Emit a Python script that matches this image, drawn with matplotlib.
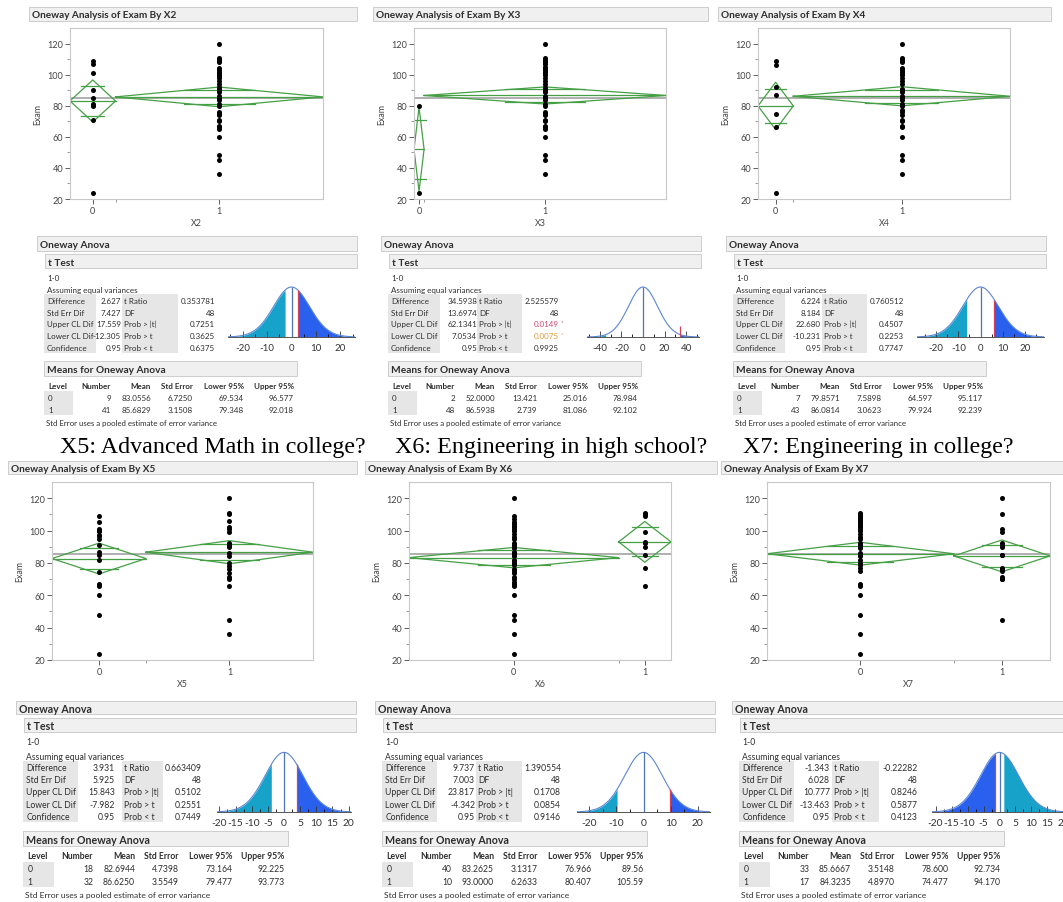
import math
import numpy as np
import matplotlib
matplotlib.use("Agg")
import matplotlib.pyplot as plt
from matplotlib.patches import Rectangle

plt.rcParams['font.family'] = ['Lato', 'DejaVu Sans']

##################### Data ######################
factors = ['X2', 'X3', 'X4', 'X5', 'X6', 'X7']
questions = ['', '', '', 'X5: Advanced Math in college?',
             'X6: Engineering in high school?', 'X7: Engineering in college?']

# exam scores, level 0 / level 1
scores = [
    ([109, 107, 101, 90, 85, 81, 80, 71, 24],
     [120, 111, 110, 109, 108, 104, 103, 102, 101, 100, 99, 98, 96, 94, 92, 91, 90,
      89, 86, 85, 84, 81, 80, 76, 75, 74, 71, 70, 67, 66, 65, 60, 48, 45, 36]),
    ([80, 24],
     [120, 111, 110, 109, 108, 107, 105, 104, 103, 102, 101, 100, 98, 96, 94, 92, 91,
      90, 89, 86, 85, 84, 81, 80, 76, 75, 74, 71, 70, 67, 66, 65, 60, 48, 45, 36]),
    ([109, 106, 92, 87, 75, 66, 24],
     [120, 111, 110, 109, 108, 104, 103, 102, 101, 100, 98, 96, 94, 91, 90, 89, 86,
      85, 84, 81, 80, 77, 76, 74, 71, 70, 67, 66, 60, 48, 45, 36]),
    ([109, 105, 101, 100, 100, 97, 96.5, 95, 91, 87, 85, 82, 74.5, 67, 66, 60, 48, 24],
     [120, 111, 110, 106, 102, 101, 99, 92, 91, 90, 86, 84, 80, 78, 76, 74, 71, 70,
      66, 45, 36]),
    ([120, 109, 107, 105, 104, 103, 102, 101, 100, 98, 96, 95, 92, 91, 90, 89, 87, 86,
      85, 84, 82, 81, 80, 79, 76, 75, 74, 71, 70, 68, 67, 66, 60, 48, 45, 36, 24],
     [111, 110, 109, 99, 93, 92, 90, 85, 77, 66]),
    ([111, 110, 109, 108, 107, 106, 105, 104, 103, 102, 101, 100, 98, 96, 95, 92, 91,
      90, 89, 86, 85, 84, 82, 80, 79, 77, 75, 67, 66, 60, 48, 36, 24],
     [120, 110, 101, 99, 92, 91, 90, 85, 85, 77, 76, 76, 75, 71, 70, 70, 45]),
]

# t Test tables
difference = ['2.627', '34.5938', '6.224', '3.931', '9.737', '-1.343']
std_err_dif = ['7.427', '13.6974', '8.184', '5.925', '7.003', '6.028']
upper_cl = ['17.559', '62.1341', '22.680', '15.843', '23.817', '10.777']
lower_cl = ['-12.305', '7.0534', '-10.231', '-7.982', '-4.342', '-13.463']
confidence = ['0.95'] * 6
t_ratio = ['0.353781', '2.525579', '0.760512', '0.663409', '1.390554', '-0.22282']
dfree = ['48'] * 6
prob_abs = ['0.7251', '0.0149*', '0.4507', '0.5102', '0.1708', '0.8246']
prob_gt = ['0.3625', '0.0075*', '0.2253', '0.2551', '0.0854', '0.5877']
prob_lt = ['0.6375', '0.9925', '0.7747', '0.7449', '0.9146', '0.4123']

# Means for Oneway Anova, level 0 / level 1
number = [('9', '41'), ('2', '48'), ('7', '43'), ('18', '32'), ('40', '10'), ('33', '17')]
mean = [('83.0556', '85.6829'), ('52.0000', '86.5938'), ('79.8571', '86.0814'),
        ('82.6944', '86.6250'), ('83.2625', '93.0000'), ('85.6667', '84.3235')]
std_error = [('6.7250', '3.1508'), ('13.421', '2.739'), ('7.5898', '3.0623'),
             ('4.7398', '3.5549'), ('3.1317', '6.2633'), ('3.5148', '4.8970')]
lower95 = [('69.534', '79.348'), ('25.016', '81.086'), ('64.597', '79.924'),
           ('73.164', '79.477'), ('76.966', '80.407'), ('78.600', '74.477')]
upper95 = [('96.577', '92.018'), ('78.984', '92.102'), ('95.117', '92.239'),
           ('92.225', '93.773'), ('89.56', '105.59'), ('92.734', '94.170')]

tick_step = [10, 20, 10, 5, 10, 5]

##################### Layout (pixels) ######################
W, H = 1063, 903
fig = plt.figure(figsize=(W / 100, H / 100), dpi=100)

frames = [(70, 29, 323, 200), (414, 29, 666, 200), (758, 29, 1010, 200),
          (52, 483, 313, 661), (409, 483, 671, 661), (767, 483, 1050, 661)]
head_bars = [(29, 8, 357, 22), (373, 8, 708, 22), (718, 8, 1051, 22),
             (8, 462, 357, 475), (365, 462, 717, 475), (721, 462, 1066, 475)]
tab_x0 = [39, 383, 728, 18, 377, 734]
val_right = [82, 94, 93, 97, 98, 96]
box2_start = [83, 94, 94, 104, 99, 98]
dist_left = [189, 204, 189, 199, 200, 198]
title_x = [0, 0, 0, 60, 395, 743]

rows_y = [
    dict(oa=(237, 252), tt=(255, 269), r10=278, ass=290, rows=[301, 313, 324, 336, 348],
         box=(295, 354), mb=(362, 377), mh=386, mr=[398, 410], lb=(392, 416), foot=423,
         dist=(286, 338)),
    dict(oa=(702, 715), tt=(719, 733), r10=742, ass=756, rows=[768, 780, 792, 805, 817],
         box=(762, 823), mb=(832, 847), mh=856, mr=[869, 882], lb=(863, 888), foot=895,
         dist=(751, 813)),
]

GREEN = '#45a045'
TXT = '#2e2e2e'
BAR = '#f0f0f0'
BAR_EDGE = '#cdcdcd'
CELL = '#e6e6e6'


def fx(x):
    return x / W


def fy(y):
    return 1 - y / H


def txt(x, y, s, size=6.3, weight='normal', ha='left', color=TXT, va='center_baseline', **kw):
    fig.text(fx(x), fy(y), s, fontsize=size, fontweight=weight, ha=ha, va=va,
             color=color, **kw)


def box(x0, y0, x1, y1, fc, ec='none', lw=0.7):
    fig.add_artist(Rectangle((fx(x0), fy(y1)), (x1 - x0) / W, (y1 - y0) / H,
                             transform=fig.transFigure, fc=fc, ec=ec, lw=lw))


def add_ax(x0, y0, x1, y1):
    return fig.add_axes([fx(x0), fy(y1), (x1 - x0) / W, (y1 - y0) / H])


def tpdf(t, nu):
    c = math.gamma((nu + 1) / 2) / (math.sqrt(nu * math.pi) * math.gamma(nu / 2))
    return c * (1 + t ** 2 / nu) ** (-(nu + 1) / 2)


##################### Dot plots with means diamonds ######################
for i, f in enumerate(factors):
    hx0, hy0, hx1, hy1 = head_bars[i]
    box(hx0, hy0, hx1, hy1, BAR, BAR_EDGE)
    txt(hx0 + 3, (hy0 + hy1) / 2, 'Oneway Analysis of Exam By ' + f, size=7.2, weight='bold')

    l, t, r, b = frames[i]
    ax = add_ax(l, t, r, b)
    n0, n1 = int(number[i][0]), int(number[i][1])
    n = n0 + n1
    spans = [(0, n0), (n0, n)]
    m = [float(v) for v in mean[i]]
    grand = (n0 * m[0] + n1 * m[1]) / n
    ax.axhline(grand, color='#9a9a9a', lw=1.1, zorder=1)
    for g in range(2):
        a, c = spans[g]
        mid = (a + c) / 2
        ys = scores[i][g]
        ax.scatter(np.full(len(ys), mid), ys, s=13, color='black', lw=0, zorder=3)
        lo, hi = float(lower95[i][g]), float(upper95[i][g])
        ax.plot([a, mid, c, mid, a], [m[g], hi, m[g], lo, m[g]], color=GREEN, lw=0.9)
        ax.plot([a, c], [m[g], m[g]], color=GREEN, lw=0.9)
        d = (hi - lo) / 2 / math.sqrt(2)
        half = 0.146 * (c - a) + 1
        for yy in (m[g] + d, m[g] - d):
            ax.plot([mid - half, mid + half], [yy, yy], color=GREEN, lw=0.9)
    ax.set_xlim(0, n)
    ax.set_ylim(20, 130)
    ax.set_xticks([n0 / 2, n0 + n1 / 2])
    ax.set_xticklabels(['0', '1'])
    ax.set_xticks([n0], minor=True)
    ax.set_yticks(range(20, 121, 20))
    ax.set_yticks(range(30, 120, 20), minor=True)
    ax.tick_params(labelsize=6.6, colors='#444444', length=3.5, width=0.6, pad=1.5)
    ax.tick_params(which='minor', length=2, width=0.6, colors='#888888')
    for sp in ax.spines.values():
        sp.set_color('#c8c8c8')
        sp.set_linewidth(0.8)
    txt(l - 32, (t + b) / 2, 'Exam', size=6.4, ha='center', rotation=90, color='#444444',
        va='center')
    txt((l + r) / 2, b + 23, f, size=6.4, ha='center', color='#444444')

    if questions[i]:
        txt(title_x[i], 453, questions[i], size=17.3, family='Liberation Serif',
            color='black', va='baseline')

##################### Oneway Anova tables ######################
for i, f in enumerate(factors):
    row = 0 if i < 3 else 1
    Y = rows_y[row]
    s = 1.0 if row == 0 else 1.045
    fs = 5.8 if row == 0 else 6.2
    x0 = tab_x0[i]
    bar_r = x0 + (318 if row == 0 else 338)

    box(x0 - 2, Y['oa'][0], bar_r, Y['oa'][1], BAR, BAR_EDGE)
    txt(x0 + 1, sum(Y['oa']) / 2, 'Oneway Anova', size=fs + 1.5, weight='bold')
    box(x0 + 6 * s, Y['tt'][0], bar_r, Y['tt'][1], BAR, BAR_EDGE)
    txt(x0 + 9 * s, sum(Y['tt']) / 2, 't Test', size=fs + 1.5, weight='bold')
    txt(x0 + 8 * s, Y['r10'], '1-0', size=fs)
    txt(x0 + 8 * s, Y['ass'], 'Assuming equal variances', size=fs)

    box(x0 + 5 * s, Y['box'][0], x0 + 57 * s, Y['box'][1], CELL)
    box(x0 + box2_start[i], Y['box'][0], x0 + 139 * s, Y['box'][1], CELL)
    labels1 = ['Difference', 'Std Err Dif', 'Upper CL Dif', 'Lower CL Dif', 'Confidence']
    values1 = [difference[i], std_err_dif[i], upper_cl[i], lower_cl[i], confidence[i]]
    labels2 = ['t Ratio', 'DF', 'Prob > |t|', 'Prob > t', 'Prob < t']
    values2 = [t_ratio[i], dfree[i], prob_abs[i], prob_gt[i], prob_lt[i]]
    for k, yy in enumerate(Y['rows']):
        txt(x0 + 8 * s, yy, labels1[k], size=fs)
        txt(x0 + val_right[i], yy, values1[k], size=fs, ha='right')
        txt(x0 + box2_start[i] + 2, yy, labels2[k], size=fs)
        v = values2[k]
        col = TXT
        if v.endswith('*'):
            col = '#d2456e' if k == 2 else '#e39a3a'
            txt(x0 + 176 * s + 2, yy - 2, '*', size=fs - 1.5, color=col)
            v = v[:-1]
        txt(x0 + 176 * s, yy, v, size=fs, ha='right', color=col)

    # t distribution plot
    se = float(std_err_dif[i])
    diff = float(difference[i])
    nu = int(dfree[i])
    xr = max(3.5 * se, 1.5 * abs(diff))
    dax = add_ax(x0 + dist_left[i], Y['dist'][0], x0 + (316 if row == 0 else 333), Y['dist'][1])
    xs = np.linspace(-xr, xr, 400)
    ys = tpdf(xs / se, nu) / se
    peak = ys.max()
    near, far = '#2a60ee', '#17a3c9'
    xr_r = np.linspace(abs(diff), xr, 200)
    xr_l = np.linspace(-xr, -abs(diff), 200)
    dax.fill_between(xr_r, 0, tpdf(xr_r / se, nu) / se, color=near if diff > 0 else far, lw=0)
    dax.fill_between(xr_l, 0, tpdf(xr_l / se, nu) / se, color=far if diff > 0 else near, lw=0)
    dax.plot(xs, ys, color='#5b86d6', lw=0.8)
    dax.vlines(0, 0, peak, color='#4f73b8', lw=0.9)
    hd = max(tpdf(diff / se, nu) / se, 0.22 * peak)
    dax.vlines(diff, 0, hd, color='#d2405c', lw=0.9)
    st = tick_step[i]
    lim = int(xr // st) * st
    major = np.arange(-lim, lim + 0.1, st)
    dax.set_xticks(major)
    dax.set_xticks(np.arange(-lim - st / 2, lim + st, st / 2), minor=True)
    dax.set_xticklabels([str(int(v)) for v in major])
    dax.set_xlim(-xr, xr)
    dax.set_ylim(0, peak * 1.04)
    dax.set_yticks([])
    for side in ('left', 'right', 'top'):
        dax.spines[side].set_visible(False)
    dax.spines['bottom'].set_color('#555555')
    dax.spines['bottom'].set_linewidth(0.7)
    dax.tick_params(axis='x', direction='in', length=4, width=0.6, colors='#333333',
                    labelsize=fs + 1.2, pad=4)
    dax.tick_params(axis='x', which='minor', direction='in', length=2.5, width=0.6)
    dax.patch.set_alpha(0)

    # Means for Oneway Anova
    box(x0 + 5 * s, Y['mb'][0], x0 + 258 * s, Y['mb'][1], BAR, BAR_EDGE)
    txt(x0 + 8 * s, sum(Y['mb']) / 2, 'Means for Oneway Anova', size=fs + 1.5, weight='bold')
    col_right = [72, 112, 154, 205, 255]
    heads = ['Number', 'Mean', 'Std Error', 'Lower 95%', 'Upper 95%']
    txt(x0 + 9 * s, Y['mh'], 'Level', size=fs, weight='bold')
    for cr, hname in zip(col_right, heads):
        txt(x0 + cr * s, Y['mh'], hname, size=fs, weight='bold', ha='right')
    box(x0 + 5 * s, Y['lb'][0], x0 + 34 * s, Y['lb'][1], CELL)
    for g in range(2):
        yy = Y['mr'][g]
        txt(x0 + 9 * s, yy, str(g), size=fs)
        vals = [number[i][g], mean[i][g], std_error[i][g], lower95[i][g], upper95[i][g]]
        for cr, v in zip(col_right, vals):
            txt(x0 + cr * s, yy, v, size=fs, ha='right')
    txt(x0 + 7 * s, Y['foot'], 'Std Error uses a pooled estimate of error variance', size=fs - 0.1)

fig.savefig('out.png', dpi=100, facecolor='white')
